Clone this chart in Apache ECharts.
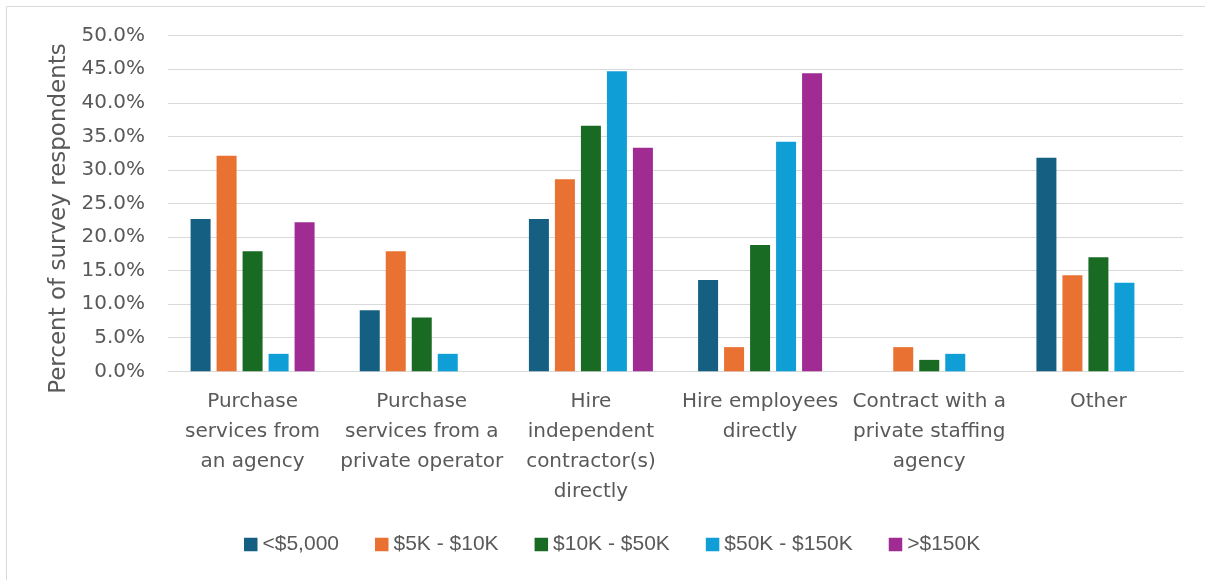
<!DOCTYPE html>
<html>
<head>
<meta charset="utf-8">
<script src="https://cdn.jsdelivr.net/npm/echarts@6/dist/echarts.min.js"></script>
<style>
  html, body { margin: 0; padding: 0; background: #ffffff; }
  #chart { width: 1205px; height: 580px; }
</style>
</head>
<body>
<div id="chart"></div>
<script>
// Hiring approach categories (x axis)
const categories = [
  'Purchase\nservices from\nan agency',
  'Purchase\nservices from a\nprivate operator',
  'Hire\nindependent\ncontractor(s)\ndirectly',
  'Hire employees\ndirectly',
  'Contract with a\nprivate staffing\nagency',
  'Other'
];

// Revenue bands (legend / series names)
const seriesNames = ['<$5,000', '$5K - $10K', '$10K - $50K', '$50K - $150K', '>$150K'];

// Percent of survey respondents per band, one value per category
const under5k      = [22.7, 9.1, 22.7, 13.6, null, 31.8];
const from5to10k   = [32.1, 17.9, 28.6, 3.6, 3.6, 14.3];
const from10to50k  = [17.9, 8.0, 36.6, 18.8, 1.7, 17.0];
const from50to150k = [2.6, 2.6, 44.7, 34.2, 2.6, 13.2];
const over150k     = [22.2, null, 33.3, 44.4, null, null];

const seriesValues = [under5k, from5to10k, from10to50k, from50to150k, over150k];
const seriesColors = ['#156082', '#E97132', '#196B24', '#0F9ED5', '#A02B93'];

const chart = echarts.init(document.getElementById('chart'), null, { renderer: 'canvas' });

const textColor = '#595959';
const gridColor = '#d9d9d9';

chart.setOption({
  animation: false,
  backgroundColor: '#ffffff',
  // chart frame (left and top edges visible)
  graphic: [{
    type: 'rect',
    shape: { x: 6.5, y: 6.5, width: 1220, height: 600 },
    style: { fill: 'none', stroke: '#d9d9d9', lineWidth: 1 },
    silent: true
  }],
  grid: { left: 168, right: 22, top: 35.7, bottom: 208.7, containLabel: false },
  legend: {
    data: seriesNames,
    top: 529,
    left: 239,
    icon: 'rect',
    itemWidth: 13.5,
    itemHeight: 13.5,
    itemGap: 36,
    textStyle: {
      color: textColor,
      fontFamily: '"Liberation Sans", Arial, sans-serif',
      fontSize: 21
    }
  },
  xAxis: {
    type: 'category',
    data: categories,
    axisLine: { show: true, lineStyle: { color: gridColor, width: 1 } },
    axisTick: { show: false },
    axisLabel: {
      interval: 0,
      color: textColor,
      fontFamily: '"DejaVu Sans", sans-serif',
      fontSize: 20,
      lineHeight: 30,
      margin: 15
    }
  },
  yAxis: {
    type: 'value',
    min: 0,
    max: 50,
    interval: 5,
    name: 'Percent of survey respondents',
    nameLocation: 'middle',
    nameGap: 96,
    nameRotate: 90,
    nameTextStyle: {
      color: textColor,
      fontFamily: '"DejaVu Sans", sans-serif',
      fontSize: 23,
      padding: [0, 30, 0, 0]
    },
    axisLine: { show: false },
    axisTick: { show: false },
    splitLine: { lineStyle: { color: gridColor, width: 1 } },
    axisLabel: {
      color: textColor,
      fontFamily: '"DejaVu Sans", sans-serif',
      fontSize: 20,
      margin: 23,
      formatter: v => v.toFixed(1) + '%'
    }
  },
  series: seriesNames.map((name, i) => ({
    name,
    type: 'bar',
    data: seriesValues[i],
    itemStyle: { color: seriesColors[i] },
    barWidth: 20,
    barGap: '30%',
    barCategoryGap: '26.6%'
  }))
});
</script>
</body>
</html>
